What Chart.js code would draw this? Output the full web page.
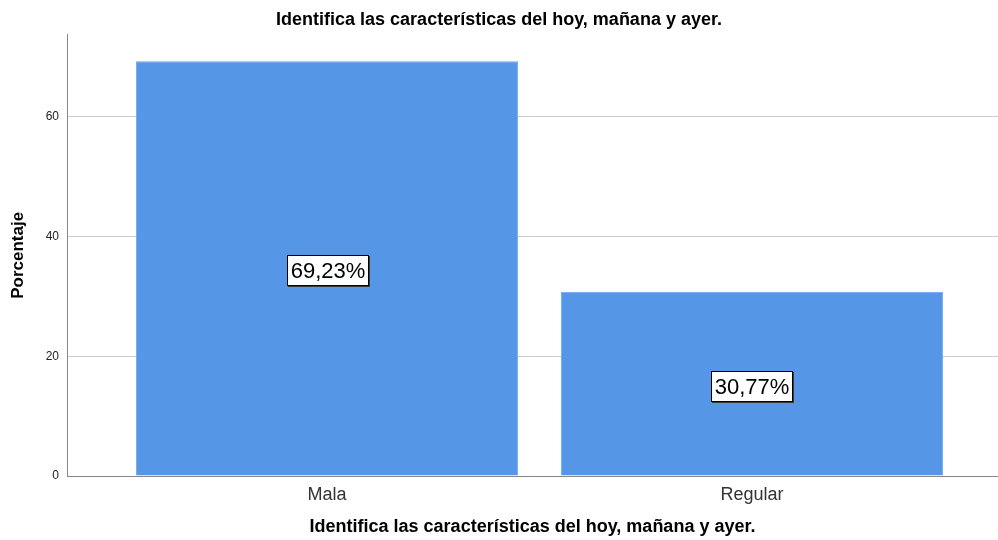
<!DOCTYPE html>
<html><head><meta charset="utf-8">
<script src="https://cdn.jsdelivr.net/npm/chart.js@4.4.0/dist/chart.umd.min.js"></script>
<style>html,body{margin:0;padding:0;background:#fff}#wrap{width:998px;height:540px}</style>
</head><body><div id="wrap"><canvas id="c"></canvas></div>
<script>
const categories = ["Mala", "Regular"];
const percentages = [69.23, 30.77];
const valueLabels = ["69,23%", "30,77%"];
const yTicks = [0, 20, 40, 60];
const chartTitle = "Identifica las características del hoy, mañana y ayer.";
const xTitle = "Identifica las características del hoy, mañana y ayer.";
const yTitle = "Porcentaje";

const FONT = '"Liberation Sans", Arial, sans-serif';

const labelPlugin = {
  id: 'boxLabels',
  afterDatasetsDraw(chart) {
    const ctx = chart.ctx;
    const meta = chart.getDatasetMeta(0);
    ctx.save();
    ctx.font = '22px ' + FONT;
    ctx.textAlign = 'center';
    ctx.textBaseline = 'middle';
    meta.data.forEach((bar, i) => {
      const cx = bar.x;
      const cy = (bar.y + bar.base) / 2 + 2;
      const w = Math.round(ctx.measureText(valueLabels[i]).width + 6);
      const h = 30;
      const x0 = Math.round(cx - w/2), y0 = Math.round(cy - h/2);
      ctx.fillStyle = '#3a3a3a';
      ctx.fillRect(x0 + 1, y0 + 1, w + 1, h + 1);
      ctx.fillStyle = '#fff';
      ctx.fillRect(x0, y0, w, h);
      ctx.strokeStyle = '#000';
      ctx.lineWidth = 1;
      ctx.strokeRect(x0 + 0.5, y0 + 0.5, w, h);
      ctx.fillStyle = '#000';
      ctx.fillText(valueLabels[i], x0 + w/2 + 0.5, y0 + h/2 + 1.5);
    });
    ctx.restore();
  }
};

new Chart(document.getElementById('c'), {
  type: 'bar',
  data: {
    datasets: [{
      data: categories.map((c, i) => ({x: i, y: percentages[i]})),
      backgroundColor: '#5596e6',
      borderColor: '#6aa3ea',
      borderWidth: 1,
      barPercentage: 0.9,
      categoryPercentage: 1.0
    }]
  },
  options: {
    responsive: true,
    maintainAspectRatio: false,
    animation: false,
    layout: {padding: 0},
    plugins: {
      legend: {display: false},
      tooltip: {enabled: false},
      title: {
        display: true,
        text: chartTitle,
        color: '#000',
        font: {family: FONT, size: 18, weight: 'bold'},
        padding: {top: 9, bottom: 4}
      }
    },
    scales: {
      x: {
        type: 'linear',
        offset: false,
        min: -0.612,
        max: 1.579,
        grid: {display: false, drawTicks: false, offset: false},
        border: {display: true, color: '#888', width: 1},
        afterBuildTicks(axis) { axis.ticks = categories.map((c, i) => ({value: i})); },
        afterFit(axis) { axis.height = 64; },
        ticks: {
          autoSkip: false,
          maxRotation: 0,
          padding: 8,
          color: '#333',
          font: {family: FONT, size: 18},
          callback: (v) => categories[v] !== undefined ? categories[v] : ''
        },
        title: {
          display: true,
          text: xTitle,
          color: '#000',
          font: {family: FONT, size: 18, weight: 'bold'},
          padding: {top: 6, bottom: 2}
        }
      },
      y: {
        min: 0,
        max: 73.7,
        grid: {color: '#cccccc', drawTicks: false},
        border: {display: true, color: '#888', width: 1},
        afterBuildTicks(axis) { axis.ticks = yTicks.map(v => ({value: v})); },
        afterFit(axis) { axis.width = 67; },
        ticks: {
          padding: 8,
          color: '#222',
          font: {family: FONT, size: 12}
        },
        title: {
          display: true,
          text: yTitle,
          color: '#000',
          font: {family: FONT, size: 17, weight: 'bold'},
          padding: {top: 8, bottom: 4}
        }
      }
    }
  },
  plugins: [labelPlugin]
});
</script></body></html>
